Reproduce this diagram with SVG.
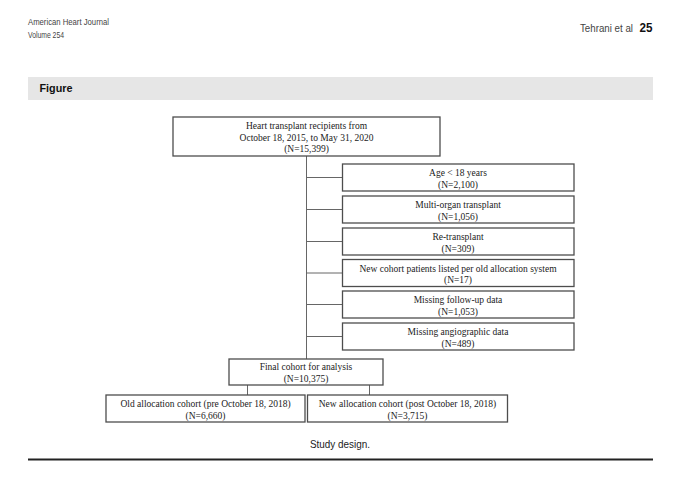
<svg xmlns="http://www.w3.org/2000/svg" width="680" height="479" viewBox="0 0 680 479">
<style>
.hdr{font-family:"Liberation Sans",Arial,sans-serif;fill:#444}
.box{fill:#fff;stroke:#4d4d4d;stroke-width:1.3}
.t{font-family:"Liberation Serif","Times New Roman",serif;font-size:9.5px;fill:#222;text-anchor:middle}
.con{stroke:#666;stroke-width:1;fill:none}
</style>
<rect width="680" height="479" fill="#fff"/>
<g id="header">
<text class="hdr" x="28" y="25" font-size="8.5" textLength="81" lengthAdjust="spacingAndGlyphs">American Heart Journal</text>
<text class="hdr" x="28" y="37.5" font-size="8.5" textLength="36" lengthAdjust="spacingAndGlyphs">Volume 254</text>
<text class="hdr" x="580" y="31.5" font-size="11" textLength="53" lengthAdjust="spacingAndGlyphs">Tehrani et al</text>
<text x="639.5" y="32" font-family="Liberation Sans,Arial,sans-serif" font-size="12" font-weight="bold" fill="#111" textLength="13" lengthAdjust="spacingAndGlyphs">25</text>
<rect x="28" y="77" width="625" height="23" fill="#e6e6e6"/>
<text x="39.5" y="91.5" font-family="Liberation Sans,Arial,sans-serif" font-size="11" font-weight="bold" fill="#111" textLength="33" lengthAdjust="spacingAndGlyphs">Figure</text>
</g>
<g id="connectors">
<line class="con" x1="306.5" y1="156" x2="306.5" y2="359"/>
<line class="con" x1="306.5" y1="177.5" x2="342.5" y2="177.5"/>
<line class="con" x1="306.5" y1="209.5" x2="342.5" y2="209.5"/>
<line class="con" x1="306.5" y1="241.5" x2="342.5" y2="241.5"/>
<line class="con" x1="306.5" y1="273" x2="342.5" y2="273"/>
<line class="con" x1="306.5" y1="304.5" x2="342.5" y2="304.5"/>
<line class="con" x1="306.5" y1="336.5" x2="342.5" y2="336.5"/>
<line class="con" x1="247.5" y1="385" x2="247.5" y2="395"/>
<line class="con" x1="369.5" y1="385" x2="369.5" y2="395"/>
</g>
<g id="n-all">
<rect class="box" x="173" y="117" width="267" height="39"/>
<text class="t" x="306.5" y="128.5">Heart transplant recipients from</text>
<text class="t" x="306.5" y="140.5">October 18, 2015, to May 31, 2020</text>
<text class="t" x="306.5" y="152">(N=15,399)</text>
</g>
<g id="n-age">
<rect class="box" x="342.5" y="164" width="231.5" height="27"/>
<text class="t" x="458" y="176">Age &lt; 18 years</text>
<text class="t" x="458" y="187.5">(N=2,100)</text>
</g>
<g id="n-multi">
<rect class="box" x="342.5" y="196" width="231.5" height="27"/>
<text class="t" x="458" y="208">Multi-organ transplant</text>
<text class="t" x="458" y="219.5">(N=1,056)</text>
</g>
<g id="n-retx">
<rect class="box" x="342.5" y="228" width="231.5" height="27"/>
<text class="t" x="458" y="240">Re-transplant</text>
<text class="t" x="458" y="251.5">(N=309)</text>
</g>
<g id="n-newold">
<rect class="box" x="342.5" y="259.5" width="231.5" height="27"/>
<text class="t" x="458" y="271.5">New cohort patients listed per old allocation system</text>
<text class="t" x="458" y="283">(N=17)</text>
</g>
<g id="n-fu">
<rect class="box" x="342.5" y="291" width="231.5" height="27"/>
<text class="t" x="458" y="303">Missing follow-up data</text>
<text class="t" x="458" y="314.5">(N=1,053)</text>
</g>
<g id="n-angio">
<rect class="box" x="342.5" y="323" width="231.5" height="27"/>
<text class="t" x="458" y="335">Missing angiographic data</text>
<text class="t" x="458" y="346.5">(N=489)</text>
</g>
<g id="n-final">
<rect class="box" x="229" y="359" width="154" height="26"/>
<text class="t" x="306" y="370">Final cohort for analysis</text>
<text class="t" x="306" y="381.5">(N=10,375)</text>
</g>
<g id="n-old">
<rect class="box" x="106" y="395" width="199" height="27"/>
<text class="t" x="205.5" y="407">Old allocation cohort (pre October 18, 2018)</text>
<text class="t" x="205.5" y="418.5">(N=6,660)</text>
</g>
<g id="n-new">
<rect class="box" x="307.5" y="395" width="200" height="27"/>
<text class="t" x="407.5" y="407">New allocation cohort (post October 18, 2018)</text>
<text class="t" x="407.5" y="418.5">(N=3,715)</text>
</g>
<g id="caption">
<text x="340" y="448" font-family="Liberation Sans,Arial,sans-serif" font-size="11" fill="#222" text-anchor="middle" textLength="60" lengthAdjust="spacingAndGlyphs">Study design.</text>
<line x1="28" y1="459.5" x2="653" y2="459.5" stroke="#222" stroke-width="1.8"/>
</g>
</svg>
